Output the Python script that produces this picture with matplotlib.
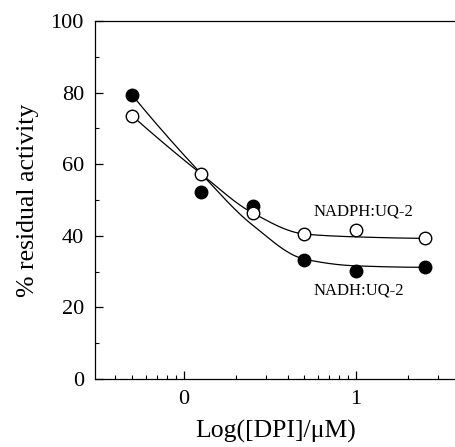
import numpy as np
import matplotlib
matplotlib.use("Agg")
import matplotlib.pyplot as plt
from matplotlib.ticker import FixedLocator

# log10 of [DPI] in uM
log_dpi = [-0.301, 0.097, 0.398, 0.699, 1.0, 1.398]
nadh_uq2 = [79.3, 52.1, 48.3, 33.2, 30.2, 31.4]
nadph_uq2 = [73.5, 57.4, 46.3, 40.4, 41.6, 39.3]

# values of the drawn fit lines at the same concentrations
nadh_curve = [79.3, 57.5, 43.0, 33.5, 31.6, 31.2]
nadph_curve = [73.5, 57.4, 46.4, 40.5, 39.7, 39.3]

x_ticks = [0, 1]
x_tick_labels = ["0", "1"]
y_ticks = [0, 20, 40, 60, 80, 100]


def end_slope(h0, h1, d0, d1):
    d = ((2 * h0 + h1) * d0 - h0 * d1) / (h0 + h1)
    if np.sign(d) != np.sign(d0):
        d = 0.0
    elif np.sign(d0) != np.sign(d1) and abs(d) > abs(3 * d0):
        d = 3 * d0
    return d


def pchip(x, y, xs):
    # monotone cubic through the fit-line readings
    x = np.asarray(x, float)
    y = np.asarray(y, float)
    h = np.diff(x)
    delta = np.diff(y) / h
    n = len(x)
    d = np.zeros(n)
    for k in range(1, n - 1):
        if delta[k - 1] * delta[k] > 0:
            w1 = 2 * h[k] + h[k - 1]
            w2 = h[k] + 2 * h[k - 1]
            d[k] = (w1 + w2) / (w1 / delta[k - 1] + w2 / delta[k])
    d[0] = end_slope(h[0], h[1], delta[0], delta[1])
    d[-1] = end_slope(h[-1], h[-2], delta[-1], delta[-2])
    idx = np.clip(np.searchsorted(x, xs) - 1, 0, n - 2)
    t = (xs - x[idx]) / h[idx]
    h00 = 2 * t**3 - 3 * t**2 + 1
    h10 = t**3 - 2 * t**2 + t
    h01 = -2 * t**3 + 3 * t**2
    h11 = t**3 - t**2
    return (h00 * y[idx] + h10 * h[idx] * d[idx]
            + h01 * y[idx + 1] + h11 * h[idx] * d[idx + 1])


plt.rcParams["font.family"] = ["Liberation Serif", "DejaVu Serif"]

fig = plt.figure(figsize=(4.56, 4.47), dpi=100)
ax = fig.add_axes([95 / 456, 68 / 447, 361 / 456, 358 / 447])

xs = np.linspace(min(log_dpi), max(log_dpi), 300)
for ys, cv, face in [(nadh_uq2, nadh_curve, "black"), (nadph_uq2, nadph_curve, "white")]:
    ax.plot(xs, pchip(log_dpi, cv, xs), color="black", lw=0.9, zorder=2)
    ax.plot(log_dpi, ys, "o", ms=9, mfc=face, mec="black", mew=1.0, zorder=3)

ax.text(0.75, 46.9, "NADPH:UQ-2", fontsize=12, ha="left", va="center")
ax.text(0.75, 24.6, "NADH:UQ-2", fontsize=12, ha="left", va="center")

ax.set_xlim(-0.517, 1.58)
ax.set_ylim(0, 100)
ax.set_xticks(x_ticks)
ax.set_xticklabels(x_tick_labels)
minor = [np.log10(v) for v in [0.3, 0.4, 0.5, 0.6, 0.7, 0.8, 0.9,
                               2, 3, 4, 5, 6, 7, 8, 9, 20, 30]]
ax.xaxis.set_minor_locator(FixedLocator(minor))
ax.set_yticks(y_ticks)
ax.yaxis.set_minor_locator(FixedLocator([10, 30, 50, 70, 90]))
ax.tick_params(which="major", direction="in", length=6, width=0.9, labelsize=16, pad=8)
ax.tick_params(which="minor", direction="in", length=3, width=0.8)
ax.spines["right"].set_visible(False)
for s in ["left", "bottom", "top"]:
    ax.spines[s].set_linewidth(0.9)

ax.set_xlabel("Log([DPI]/\u03bcM)", fontsize=18.5, labelpad=8)
ax.set_ylabel("% residual activity", fontsize=18.5, labelpad=8)

fig.savefig("out.png", dpi=100)
